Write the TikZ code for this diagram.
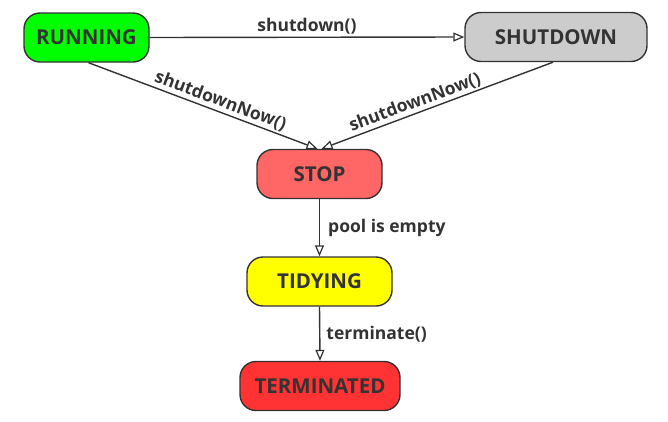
\documentclass[tikz,border=0pt]{standalone}
\usepackage{fontspec}
\setmainfont{Open Sans}
\usetikzlibrary{arrows.meta}
\definecolor{ink}{HTML}{333333}
\tikzset{
  state/.style={draw=ink, line width=1.4pt, rounded corners=16pt, text=ink,
    font=\fontsize{20.5}{24}\selectfont\bfseries, minimum height=49pt, inner sep=0pt},
  conn/.style={draw=ink, line width=1.4pt, -{Triangle[open, length=11pt, width=9pt, line width=1.2pt]}},
  lbl/.style={text=ink, font=\fontsize{17.5}{20}\selectfont\bfseries, inner sep=2pt}
}
\begin{document}
\begin{tikzpicture}[x=1pt, y=-1pt]
\useasboundingbox (0,0) rectangle (668,421);
\node[state, fill={rgb,255:red,0;green,255;blue,0}, minimum width=125pt] (run) at (86.5,37.5) {RUNNING};
\node[state, fill={rgb,255:red,204;green,204;blue,204}, minimum width=182pt] (shut) at (556,37) {SHUTDOWN};
\node[state, fill={rgb,255:red,255;green,102;blue,102}, minimum width=125pt] (stop) at (319.5,174) {STOP};
\node[state, fill={rgb,255:red,255;green,255;blue,0}, minimum width=145pt] (tidy) at (319.5,281.5) {TIDYING};
\node[state, fill={rgb,255:red,255;green,51;blue,51}, minimum width=160pt] (term) at (320,386) {TERMINATED};
\draw[conn] (run.east) -- node[lbl, above, pos=0.5] {shutdown()} (shut.west);
\draw[conn] ([xshift=2pt]run.south) -- node[lbl, above, sloped, pos=0.56] {shutdownNow()} ([xshift=-2pt]stop.north);
\draw[conn] ([xshift=-3pt]shut.south) -- node[lbl, above, sloped, pos=0.58] {shutdownNow()} ([xshift=2pt]stop.north);
\draw[conn] (stop.south) -- node[lbl, right, xshift=6pt] {pool is empty} (tidy.north);
\draw[conn] (tidy.south) -- node[lbl, right, xshift=4pt] {terminate()} (term.north);
\end{tikzpicture}
\end{document}
